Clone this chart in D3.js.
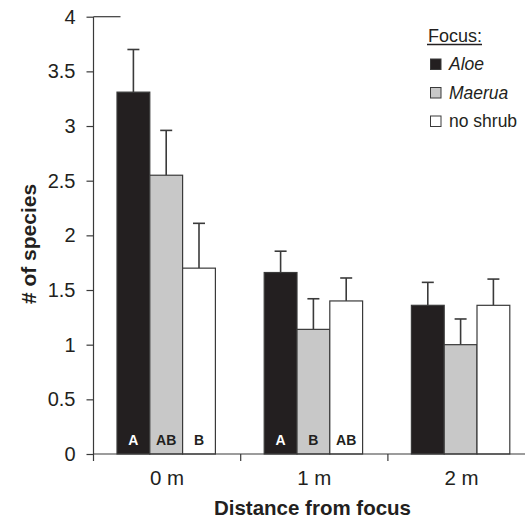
<!DOCTYPE html>
<html>
<head>
<meta charset="utf-8">
<script src="https://cdn.jsdelivr.net/npm/d3@7"></script>
<style>
  body { margin: 0; background: #fff; }
  svg { font-family: "Liberation Sans", Arial, sans-serif; }
</style>
</head>
<body>
<svg width="525" height="521"></svg>
<script>
const distances = ['0 m', '1 m', '2 m'];
const focusNames = ['Aloe', 'Maerua', 'no shrub'];
// mean number of species, one array per focus
const aloeVals = [3.31, 1.66, 1.36];
const maeruaVals = [2.55, 1.14, 1.00];
const noShrubVals = [1.70, 1.40, 1.36];
// upper end of the error bars
const aloeErr = [3.70, 1.855, 1.57];
const maeruaErr = [2.96, 1.42, 1.235];
const noShrubErr = [2.11, 1.61, 1.60];
// significance letters
const aloeLetters = ['A', 'A', ''];
const maeruaLetters = ['AB', 'B', ''];
const noShrubLetters = ['B', 'AB', ''];
const yTicks = [0, 0.5, 1, 1.5, 2, 2.5, 3, 3.5, 4];

const fills = ['#231f20', '#c8c8c8', '#ffffff'];
const letterColors = ['#ffffff', '#231f20', '#231f20'];
const axisColor = '#3a3a3a';
const textColor = '#231f20';

const vals = [aloeVals, maeruaVals, noShrubVals];
const errs = [aloeErr, maeruaErr, noShrubErr];
const letters = [aloeLetters, maeruaLetters, noShrubLetters];

const rows = [];
distances.forEach((d, i) => {
    focusNames.forEach((f, j) => {
        rows.push({dist: d, focus: f, j: j, value: vals[j][i], err: errs[j][i], letter: letters[j][i]});
    });
});

const svg = d3.select('svg');
const plotLeft = 93.5, plotRight = 525, plotTop = 16.7, plotBottom = 454;

const x0 = d3.scaleBand().domain(distances).range([plotLeft, plotLeft + 3 * 147.2]);
const barW = 32.8;
const x1 = d3.scaleBand().domain(focusNames).range([23.5, 23.5 + 3 * barW]);
const y = d3.scaleLinear().domain([0, 4]).range([plotBottom, plotTop]);

// error bars (drawn first so bars sit on top)
const eb = svg.append('g').selectAll('g').data(rows).enter().append('g')
    .attr('transform', d => 'translate(' + (x0(d.dist) + x1(d.focus) + barW / 2) + ',0)');
eb.append('line')
    .attr('y1', d => y(d.value)).attr('y2', d => y(d.err))
    .attr('stroke', axisColor).attr('stroke-width', 1.6);
eb.append('line')
    .attr('x1', -6).attr('x2', 6)
    .attr('y1', d => y(d.err)).attr('y2', d => y(d.err))
    .attr('stroke', axisColor).attr('stroke-width', 1.6);

// bars
svg.append('g').selectAll('rect').data(rows).enter().append('rect')
    .attr('x', d => x0(d.dist) + x1(d.focus))
    .attr('y', d => y(d.value))
    .attr('width', barW)
    .attr('height', d => y(0) - y(d.value))
    .attr('fill', d => fills[d.j])
    .attr('stroke', axisColor)
    .attr('stroke-width', 1.2);

// letters in bars
svg.append('g').selectAll('text').data(rows.filter(d => d.letter)).enter().append('text')
    .attr('x', d => x0(d.dist) + x1(d.focus) + barW / 2)
    .attr('y', 444.5)
    .attr('text-anchor', 'middle')
    .attr('font-size', 14)
    .attr('font-weight', 'bold')
    .attr('fill', d => letterColors[d.j])
    .text(d => d.letter);

// y axis
const yAxis = d3.axisLeft(y).tickValues(yTicks).tickSize(7).tickSizeOuter(0)
    .tickFormat(d3.format('~g'));
const yg = svg.append('g').attr('transform', 'translate(' + plotLeft + ',0)').call(yAxis);
yg.select('.domain').attr('stroke', axisColor).attr('stroke-width', 1.2)
    .attr('d', 'M0,' + plotTop + 'V' + (plotBottom + 7));
yg.selectAll('.tick line').attr('stroke', axisColor).attr('stroke-width', 1.2);
yg.selectAll('.tick text').attr('font-size', 20).attr('fill', textColor)
    .attr('font-family', '"Liberation Sans", Arial, sans-serif').attr('x', -18);
// top tick reaches across the axis
svg.append('line').attr('x1', plotLeft).attr('x2', plotLeft + 27)
    .attr('y1', y(4)).attr('y2', y(4))
    .attr('stroke', axisColor).attr('stroke-width', 1.2);

// x axis
svg.append('line').attr('x1', plotLeft).attr('x2', plotRight).attr('y1', plotBottom).attr('y2', plotBottom)
    .attr('stroke', axisColor).attr('stroke-width', 1.2);
svg.append('g').selectAll('line').data(distances.slice(1)).enter().append('line')
    .attr('x1', d => x0(d)).attr('x2', d => x0(d))
    .attr('y1', plotBottom).attr('y2', plotBottom + 7)
    .attr('stroke', axisColor).attr('stroke-width', 1.2);
svg.append('g').selectAll('text').data(distances).enter().append('text')
    .attr('x', d => x0(d) + x0.bandwidth() / 2)
    .attr('y', 485)
    .attr('text-anchor', 'middle')
    .attr('font-size', 20.5)
    .attr('fill', textColor)
    .text(d => d);

// axis titles
svg.append('text')
    .attr('x', 312.5).attr('y', 515)
    .attr('text-anchor', 'middle')
    .attr('font-size', 20.5).attr('font-weight', 'bold').attr('fill', textColor)
    .text('Distance from focus');
svg.append('text')
    .attr('transform', 'translate(36,244) rotate(-90)')
    .attr('text-anchor', 'middle')
    .attr('font-size', 21).attr('font-weight', 'bold').attr('fill', textColor)
    .text('# of species');

// legend
const lg = svg.append('g').attr('transform', 'translate(428,0)');
lg.append('text').attr('x', 0).attr('y', 41.5).attr('font-size', 18).attr('fill', textColor).text('Focus:');
lg.append('line').attr('x1', -1).attr('x2', 54).attr('y1', 44.5).attr('y2', 44.5)
    .attr('stroke', textColor).attr('stroke-width', 1.4);
const li = lg.selectAll('.li').data(focusNames).enter().append('g')
    .attr('transform', (d, i) => 'translate(0,' + (70 + i * 28.5) + ')');
li.append('rect').attr('x', 2.5).attr('y', -11).attr('width', 10.5).attr('height', 10.5)
    .attr('fill', (d, i) => fills[i]).attr('stroke', axisColor).attr('stroke-width', 1);
li.append('text').attr('x', 21).attr('y', 0).attr('font-size', 17.5).attr('fill', textColor)
    .attr('font-style', (d, i) => i < 2 ? 'italic' : 'normal')
    .text(d => d);
</script>
</body>
</html>
